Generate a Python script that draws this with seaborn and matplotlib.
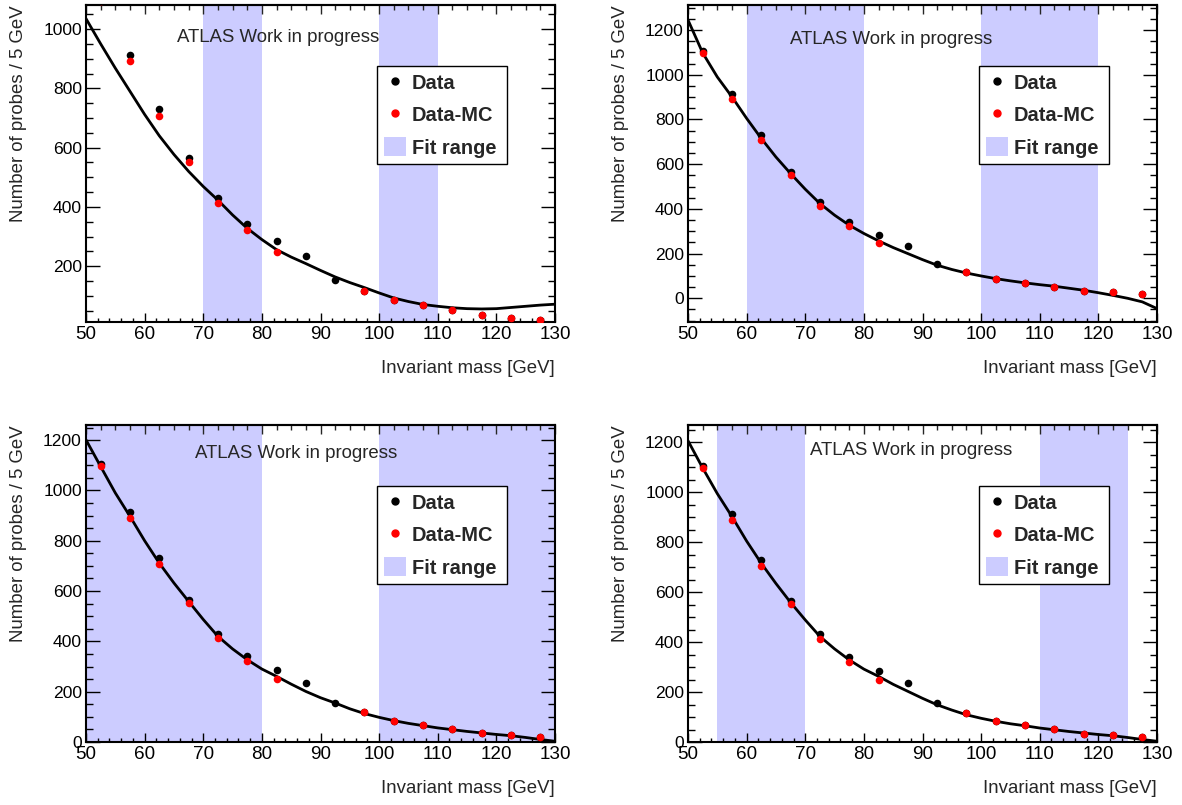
import numpy as np
import matplotlib
matplotlib.use("Agg")
import matplotlib.pyplot as plt
import seaborn as sns
from matplotlib.lines import Line2D
from matplotlib.patches import Patch
from matplotlib.ticker import MultipleLocator

# bin centres and measured counts (same in every panel)
mass = [52.5, 57.5, 62.5, 67.5, 72.5, 77.5, 82.5, 87.5,
        92.5, 97.5, 102.5, 107.5, 112.5, 117.5, 122.5, 127.5]
data = [1105, 913, 730, 566, 431, 342, 285, 236,
        155, 118, 85, 69, 51, 34, 27, 19]
data_mc = [1096, 891, 707, 552, 412, 322, 249, np.nan,
           np.nan, 118, 85, 69, 51, 34, 27, 19]

# fit curves
curve_x = [50, 52.5, 55, 57.5, 60, 62.5, 65, 67.5, 70, 72.5, 75, 77.5, 80,
           82.5, 85, 87.5, 90, 92.5, 95, 97.5, 100, 102.5, 105, 107.5, 110,
           112.5, 115, 117.5, 120, 122.5, 125, 127.5, 130]
fit_1 = [1035, 950, 868, 790, 712, 640, 577, 520, 469, 423, 373, 328, 290,
         256, 231, 209, 186, 164, 145, 128, 110, 93, 81, 71, 65,
         60, 57, 56, 57, 61, 65, 69, 72]
fit_2 = [1245, 1098, 990, 901, 805, 715, 632, 558, 488, 424, 372, 327, 290,
         257, 227, 200, 173, 148, 129, 113, 100, 88, 78, 69, 61,
         54, 45, 36, 25, 13, 0, -16, -46]
fit_3 = [1201, 1095, 990, 897, 800, 711, 632, 559, 487, 420, 370, 327, 290,
         261, 230, 201, 176, 155, 132, 113, 98, 85, 74, 65, 56,
         49, 42, 36, 30, 25, 18, 10, 3]
fit_4 = [1207, 1098, 995, 903, 805, 716, 635, 559, 489, 423, 373, 329, 292,
         263, 231, 203, 175, 149, 128, 109, 95, 83, 73, 65, 56,
         49, 42, 36, 30, 25, 18, 10, 3]

fits = [fit_1, fit_2, fit_3, fit_4]
fit_ranges = [[(70, 80), (100, 110)],
              [(60, 80), (100, 120)],
              [(50, 80), (100, 130)],
              [(55, 70), (110, 125)]]
ylims = [(12, 1081), (-106, 1312), (0, 1260), (0, 1270)]
atlas_pos = [(0.193, 0.897), (0.217, 0.89), (0.232, 0.911), (0.26, 0.921)]

band_col = "#ccccff"

sns.set_theme(style="ticks")
plt.rcParams["font.family"] = ["Liberation Sans", "DejaVu Sans"]

fig = plt.figure(figsize=(11.82, 8.05), dpi=100)
W, H = 1182, 805
lefts = [86, 688, 86, 688]
tops = [5, 5, 425, 425]

for i in range(4):
    ax = fig.add_axes([lefts[i] / W, 1 - (tops[i] + 317) / H, 469 / W, 317 / H])
    for lo, hi in fit_ranges[i]:
        ax.axvspan(lo, hi, color=band_col, lw=0, zorder=0)
    sns.lineplot(x=curve_x, y=fits[i], color="black", lw=2.0, ax=ax, zorder=2)
    sns.scatterplot(x=mass, y=data, color="black", s=30, linewidth=0, ax=ax, zorder=3)
    sns.scatterplot(x=mass, y=data_mc, color="red", s=30, linewidth=0, ax=ax, zorder=4)

    ax.set_xlim(50, 130)
    ax.set_ylim(*ylims[i])
    ax.xaxis.set_major_locator(MultipleLocator(10))
    ax.xaxis.set_minor_locator(MultipleLocator(2))
    ax.yaxis.set_major_locator(MultipleLocator(200))
    ax.yaxis.set_minor_locator(MultipleLocator(50))
    ax.tick_params(axis="x", which="both", direction="in", top=False,
                   labelsize=13.6, pad=3, width=1.0, colors="black")
    ax.tick_params(axis="x", which="major", length=6.5)
    ax.tick_params(axis="x", which="minor", length=3.2)
    ax.tick_params(axis="y", which="both", direction="in", right=True,
                   labelsize=12.6, pad=3, width=1.0, colors="black")
    ax.tick_params(axis="y", which="major", length=10)
    ax.tick_params(axis="y", which="minor", length=5)

    top = ax.secondary_xaxis("top")
    top.xaxis.set_major_locator(MultipleLocator(10))
    top.xaxis.set_minor_locator(MultipleLocator(2.5))
    top.tick_params(which="both", direction="in", labeltop=False, width=1.0)
    top.tick_params(which="major", length=6.5)
    top.tick_params(which="minor", length=3.5)

    for sp in ax.spines.values():
        sp.set_linewidth(1.5)
        sp.set_color("black")
    top.spines["top"].set_linewidth(1.5)

    ax.set_xlabel("Invariant mass [GeV]", fontsize=13.4, loc="right")
    ax.xaxis.set_label_coords(1.0, -0.12)
    ax.set_ylabel("Number of probes / 5 GeV", fontsize=13.4, loc="top")
    ax.yaxis.set_label_coords(-0.126, 1.0)

    ax.text(atlas_pos[i][0], atlas_pos[i][1], "ATLAS Work in progress",
            transform=ax.transAxes, fontsize=13.4, ha="left", va="center")

    handles = [Line2D([], [], ls="", marker="o", color="black", markersize=5),
               Line2D([], [], ls="", marker="o", color="red", markersize=5),
               Patch(facecolor=band_col, edgecolor="none")]
    leg = ax.legend(handles, ["Data", "Data-MC", "Fit range"],
                    bbox_to_anchor=(0.62, 0.493, 0.278, 0.316), loc="upper left",
                    mode="expand", borderaxespad=0, borderpad=0.34,
                    labelspacing=0.6, handlelength=1.1, handleheight=1.1,
                    handletextpad=0.3, fancybox=False, framealpha=1,
                    edgecolor="black", prop={"weight": "bold", "size": 14.4})
    leg.get_frame().set_linewidth(1.0)

fig.savefig("out.png", dpi=100)
